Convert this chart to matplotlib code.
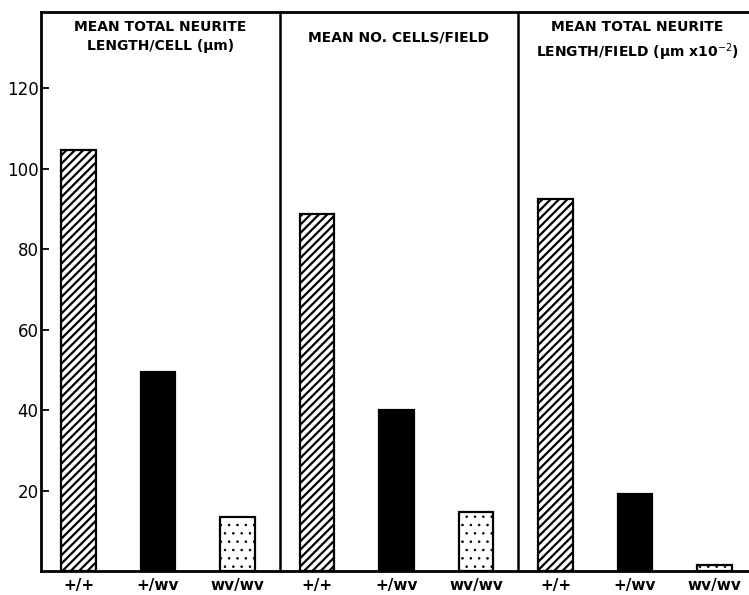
import matplotlib
matplotlib.use("Agg")
import matplotlib.pyplot as plt

plt.rcParams['font.family'] = ['DejaVu Sans']

# data
genotypes = ["+/+", "+/wv", "wv/wv"]
panel_titles = [
    "MEAN TOTAL NEURITE\nLENGTH/CELL (μm)",
    "MEAN NO. CELLS/FIELD",
    "MEAN TOTAL NEURITE\nLENGTH/FIELD (μm x10$^{-2}$)",
]
neurite_per_cell = [104.6, 49.5, 13.4]
cells_per_field = [88.9, 40.1, 14.7]
neurite_per_field = [92.6, 19.2, 1.5]
y_ticks = [20, 40, 60, 80, 100, 120]

panels = [neurite_per_cell, cells_per_field, neurite_per_field]
styles = [
    dict(facecolor="white", hatch="////", hlw=1.6),
    dict(facecolor="black", hatch=None, hlw=1.0),
    dict(facecolor="white", hatch="..", hlw=0.6),
]

fig = plt.figure(figsize=(7.49, 5.95), dpi=100)
ax = fig.add_axes([0.055, 0.0403, 0.950, 0.9395])

n = len(genotypes)
xt, xl = [], []
for p, vals in enumerate(panels):
    for i, v in enumerate(vals):
        st = styles[i]
        plt.rcParams['hatch.linewidth'] = st["hlw"]
        x = p * n + i - 0.03
        ax.bar(x, v, width=0.43, facecolor=st["facecolor"], hatch=st["hatch"],
               edgecolor="black", linewidth=1.6, zorder=3)
        xt.append(x)
        xl.append(genotypes[i])
    if p > 0:
        ax.axvline(p * n - 0.5, color="black", linewidth=1.8, zorder=4)
    two = "\n" in panel_titles[p]
    ax.text(p * n + 1, 137.0 if two else 134.3, panel_titles[p],
            ha="center", va="top", fontsize=10, fontweight="bold",
            linespacing=1.45)

ax.set_xlim(-0.5, 3 * n - 0.55)
ax.set_ylim(0, 139)

ax.set_yticks(y_ticks)
ax.set_yticklabels([str(t) for t in y_ticks], fontsize=12)
ax.set_xticks(xt)
ax.set_xticklabels(xl, fontsize=11, fontweight="bold")
ax.tick_params(axis="y", direction="in", length=6, width=1.3, pad=2)
ax.tick_params(axis="x", length=0, pad=5)

for s in ax.spines.values():
    s.set_linewidth(2)
ax.spines['right'].set_visible(False)

fig.savefig("out.png", dpi=100)
